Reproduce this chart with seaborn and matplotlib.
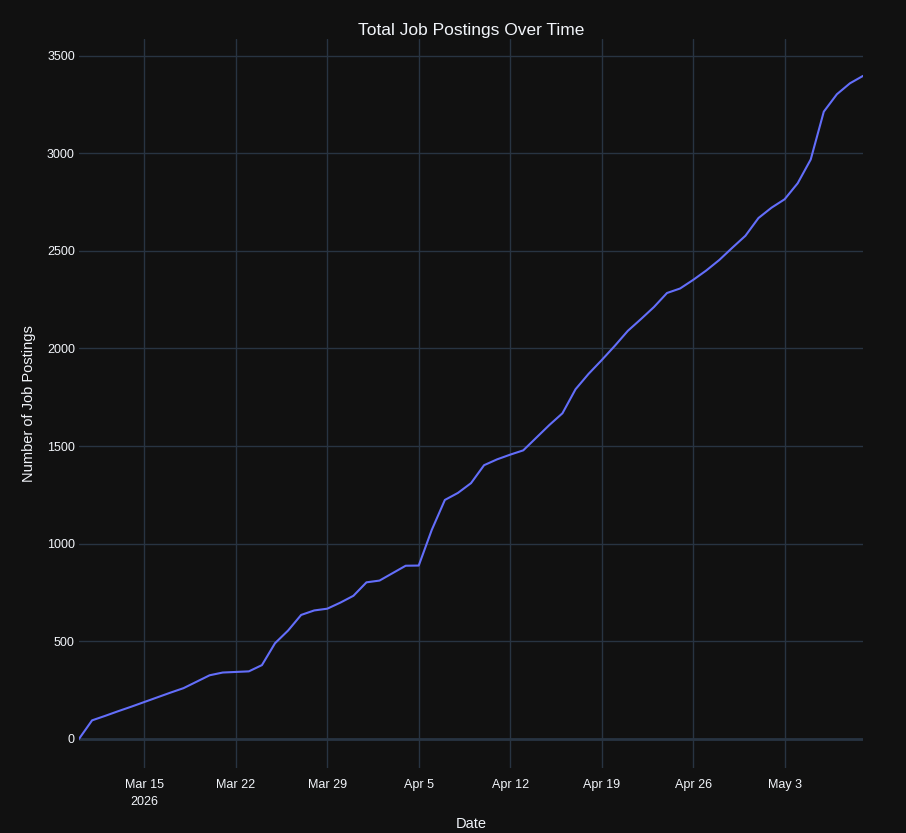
import pandas as pd
import matplotlib.pyplot as plt
import seaborn as sns

# data (daily cumulative totals, Mar 10 - May 9 2026)
dates = pd.date_range("2026-03-10", "2026-05-09", freq="D")
total_postings = [
    0, 95, 118, 142, 165, 189, 213, 237, 260, 293, 326, 340, 343, 346, 378,
    490, 555, 635, 658, 667, 698, 733,
    802, 811, 849, 887, 888, 1071, 1224, 1260, 1310, 1402, 1432, 1456, 1478,
    1543, 1608, 1668, 1791, 1870, 1940, 2013, 2090, 2150, 2212, 2284, 2307,
    2351, 2399, 2453, 2516, 2577,
    2668, 2721, 2764, 2846, 2968, 3213, 3302, 3358, 3396,
]
tick_dates = ["2026-03-15", "2026-03-22", "2026-03-29", "2026-04-05",
              "2026-04-12", "2026-04-19", "2026-04-26", "2026-05-03"]
tick_labels = ["Mar 15\n2026", "Mar 22", "Mar 29", "Apr 5",
               "Apr 12", "Apr 19", "Apr 26", "May 3"]
y_ticks = [0, 500, 1000, 1500, 2000, 2500, 3000, 3500]

df = pd.DataFrame({"Date": dates, "Total": total_postings})

bg = "#111111"
grid = "#283442"
txt = "#f2f5fa"

sns.set_theme(style="darkgrid", rc={
    "figure.facecolor": bg,
    "axes.facecolor": bg,
    "grid.color": grid,
    "grid.linewidth": 1,
    "text.color": txt,
    "axes.labelcolor": txt,
    "xtick.color": txt,
    "ytick.color": txt,
})
plt.rcParams["font.family"] = ["Liberation Sans", "DejaVu Sans"]

fig = plt.figure(figsize=(9.06, 8.33), dpi=100)
ax = fig.add_axes([79 / 906, 65 / 833, 784 / 906, 729 / 833])

ax.axhline(0, color=grid, lw=2, zorder=1)
sns.lineplot(data=df, x="Date", y="Total", ax=ax, color="#636efa", lw=1.5, zorder=3)

ax.set_xlim(dates[0], dates[-1])
ax.set_ylim(-149, 3585)
ax.set_xticks(pd.to_datetime(tick_dates))
ax.set_xticklabels(tick_labels, fontsize=9, linespacing=1.5)
ax.set_yticks(y_ticks)
ax.set_yticklabels([str(v) for v in y_ticks], fontsize=9)
ax.tick_params(axis="both", length=0)
ax.tick_params(axis="x", pad=8)
ax.tick_params(axis="y", pad=3)
for s in ax.spines.values():
    s.set_visible(False)

ax.set_xlabel("Date", fontsize=10.5, labelpad=7)
ax.set_ylabel("Number of Job Postings", fontsize=10.5, labelpad=8)
ax.set_title("Total Job Postings Over Time", fontsize=12.5, color=txt, pad=3)

fig.savefig("out.png", dpi=100, facecolor=bg)
